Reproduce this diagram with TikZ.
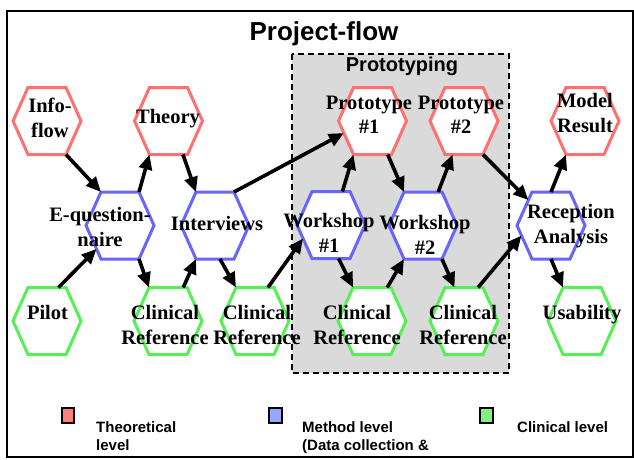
\documentclass[tikz,border=0pt]{standalone}
\usepackage{fontspec}
\setmainfont{Liberation Serif}
\setsansfont{Liberation Sans}
\usetikzlibrary{arrows.meta,calc}
\definecolor{hexred}{HTML}{FF7070}
\definecolor{hexblue}{HTML}{6666FF}
\definecolor{hexgreen}{HTML}{55F055}
\definecolor{legred}{HTML}{FF8080}
\definecolor{legblue}{HTML}{95A8FF}
\definecolor{leggreen}{HTML}{80F080}
\definecolor{protogray}{HTML}{DADADA}
\newcommand\hexshape[4]{%
  \begin{scope}[shift={(#2,#3)}]
    \coordinate (#1) at (0,0);
    \coordinate (#1-l) at (-34,0);
    \coordinate (#1-tl) at (-19,-33.5);
    \coordinate (#1-tr) at (19,-33.5);
    \coordinate (#1-r) at (34,0);
    \coordinate (#1-br) at (19,33.5);
    \coordinate (#1-bl) at (-19,33.5);
    \draw[hexbox,#4] (#1-l) -- (#1-tl) -- (#1-tr) -- (#1-r) -- (#1-br) -- (#1-bl) -- cycle;
  \end{scope}}
\tikzset{
  hexbox/.style={line width=3pt, fill=white, line join=miter},
  lbl/.style={font=\fontsize{20.5}{24.5}\selectfont\bfseries, align=center, inner sep=0pt},
  arr/.style={line width=3.6pt, -{Triangle[length=15pt,width=13pt]}},
  legtxt/.style={font=\fontsize{15}{18}\selectfont\sffamily\bfseries, anchor=base west, inner sep=0pt},
  legbox/.style={draw=black, line width=1.2pt},
}
\begin{document}
\begin{tikzpicture}[x=1pt,y=-1pt]
\useasboundingbox (0,0) rectangle (634,459);
% frame
\draw[line width=1.3pt] (7,11) rectangle (633,457);
% prototyping area
\draw[fill=protogray, dashed, dash pattern=on 6pt off 4pt, line width=1.4pt] (292,54) rectangle (509,373);
\node[font=\fontsize{20}{24}\selectfont\sffamily\bfseries, inner sep=0pt] (protolbl) at (402,66) {Prototyping};
\node[font=\fontsize{26}{30}\selectfont\sffamily\bfseries, inner sep=0pt] (title) at (324,34) {Project-flow};
% hexagons
\hexshape{info}{47}{121}{draw=hexred}
\hexshape{theo}{168.5}{121}{draw=hexred}
\hexshape{p1}{372.5}{121}{draw=hexred}
\hexshape{p2}{464}{121}{draw=hexred}
\hexshape{mod}{585}{121}{draw=hexred}
\hexshape{eq}{120}{225.5}{draw=hexblue}
\hexshape{int}{215}{225.5}{draw=hexblue}
\hexshape{w1}{331}{225}{draw=hexblue}
\hexshape{w2}{423}{225.5}{draw=hexblue}
\hexshape{rec}{551}{225.5}{draw=hexblue}
\hexshape{pil}{47}{321}{draw=hexgreen}
\hexshape{c1}{168}{321}{draw=hexgreen}
\hexshape{c2}{255}{321}{draw=hexgreen}
\hexshape{c3}{372}{321}{draw=hexgreen}
\hexshape{c4}{464}{321}{draw=hexgreen}
\hexshape{usa}{582}{321}{draw=hexgreen}
% arrows
\draw[arr] (info-br) -- (eq-tl);
\draw[arr] (eq-tr) -- (theo-bl);
\draw[arr] ($(theo-bl)!0.88!(theo-br)$) -- (int-tl);
\draw[arr] (int-tr) -- ($(p1-l)!0.36!(p1-bl)$);
\draw[arr] ($(pil-tl)!0.8!(pil-tr)$) -- ($(eq-l)!0.7!(eq-bl)$);
\draw[arr] (eq-br) -- (c1-tl);
\draw[arr] ($(c1-tl)!0.9!(c1-tr)$) -- (int-bl);
\draw[arr] ($(int-bl)!0.63!(int-br)$) -- (c2-tl);
\draw[arr] ($(c2-tl)!0.84!(c2-tr)$) -- ($(w1-l)!0.4!(w1-bl)$);
\draw[arr] ($(w1-tl)!0.8!(w1-tr)$) -- (p1-bl);
\draw[arr] ($(p1-bl)!0.9!(p1-br)$) -- (w2-tl);
\draw[arr] ($(w1-bl)!0.7!(w1-br)$) -- (c3-tl);
\draw[arr] ($(c3-tl)!0.9!(c3-tr)$) -- (w2-bl);
\draw[arr] ($(w2-tl)!0.9!(w2-tr)$) -- ($(p2-bl)!0.2!(p2-br)$);
\draw[arr] (w2-br) -- ($(c4-tl)!0.25!(c4-tr)$);
\draw[arr] (p2-br) -- ($(rec-l)!0.76!(rec-tl)$);
\draw[arr] ($(c4-tl)!0.87!(c4-tr)$) -- ($(rec-l)!0.3!(rec-bl)$);
\draw[arr] ($(rec-tl)!0.5!(rec-tr)$) -- (mod-bl);
\draw[arr] ($(rec-bl)!0.5!(rec-br)$) -- (usa-tl);
% labels
\node[lbl] (infot) at (50,118) {Info-\\flow};
\node[lbl] (theot) at (168,119) {Theory};
\node[lbl] (p1t) at (369,115) {Prototype\\\#1};
\node[lbl] (p2t) at (461,115) {Prototype\\\#2};
\node[lbl] (modt) at (585,113) {Model\\Result};
\node[lbl] (eqt) at (100,227) {E-question-\\naire};
\node[lbl] (intt) at (217,223) {Interviews};
\node[lbl] (w1t) at (329,233) {Workshop\\\#1};
\node[lbl] (w2t) at (425,235) {Workshop\\\#2};
\node[lbl] (rect) at (571,226) {Reception\\Analysis};
\node[lbl] (pilt) at (47.5,312) {Pilot};
\node[lbl] (c1t) at (165,325) {Clinical\\Reference};
\node[lbl] (c2t) at (257,325) {Clinical\\Reference};
\node[lbl] (c3t) at (357,325) {Clinical\\Reference};
\node[lbl] (c4t) at (463,325) {Clinical\\Reference};
\node[lbl] (usat) at (582,315) {Usability};
% legend
\draw[legbox, fill=legred] (62,408) rectangle (74,423);
\draw[legbox, fill=legblue] (269,408) rectangle (282,423);
\draw[legbox, fill=leggreen] (480,408) rectangle (493,423);
\node[legtxt] (lt1) at (96,432) {Theoretical};
\node[legtxt] (lt2) at (96,450) {level};
\node[legtxt] (lm1) at (302,432) {Method level};
\node[legtxt] (lm2) at (302,450) {(Data collection \&};
\node[legtxt] (lc1) at (517,432) {Clinical level};
\end{tikzpicture}
\end{document}
